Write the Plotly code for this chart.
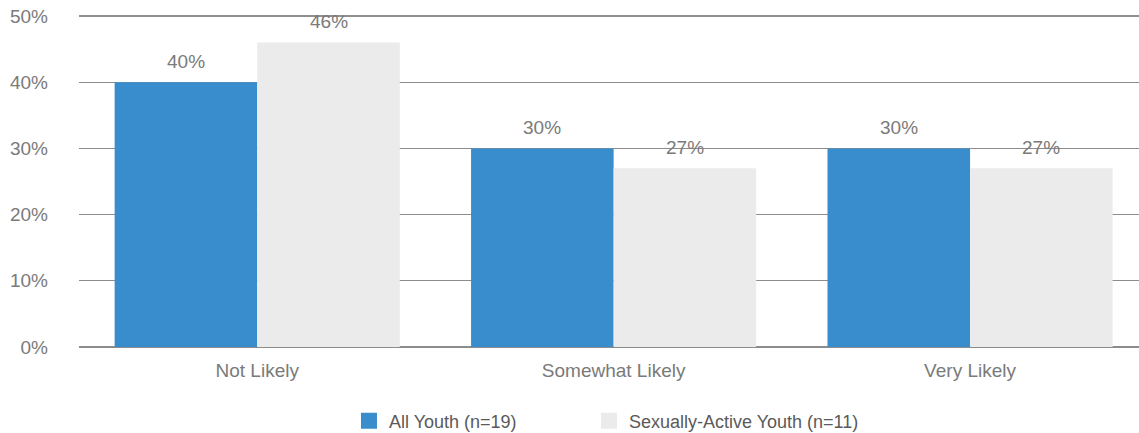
import plotly.graph_objects as go

categories = ["Not Likely", "Somewhat Likely", "Very Likely"]
all_youth = [40, 30, 30]
active_youth = [46, 27, 27]
series_names = ["All Youth (n=19)", "Sexually-Active Youth (n=11)"]
tick_vals = [0, 10, 20, 30, 40, 50]
tick_text = ["0%", "10%", "20%", "30%", "40%", "50%"]

BLUE = "#3a8dcd"
GREY = "#ebebeb"
TXT = "#7a7a7a"
GRID = "#8c8c8c"
FONT = "Liberation Sans, Arial, sans-serif"
BARGAP = 0.2

fig = go.Figure()
fig.add_trace(go.Bar(x=categories, y=all_youth, marker=dict(color=BLUE, line_width=0),
                     name=series_names[0], showlegend=False))
fig.add_trace(go.Bar(x=categories, y=active_youth, marker=dict(color=GREY, line_width=0),
                     name=series_names[1], showlegend=False))

# legend swatches, each in its own legend box so they can be placed freely
legend_x = [0.2547, 0.4811]
legend_ids = ["legend", "legend2"]
for nm, col, lid in zip(series_names, [BLUE, GREY], legend_ids):
    fig.add_trace(go.Scatter(x=[None], y=[None], mode="markers", name=nm, legend=lid,
                             marker=dict(symbol="square", size=18, color=col)))

# value labels above each bar
half = (1 - BARGAP) / 4
for i, (a, b) in enumerate(zip(all_youth, active_youth)):
    for off, v in ((-half, a), (half, b)):
        fig.add_annotation(x=i + off, y=v, text=f"{v}%", showarrow=False,
                           yanchor="middle", yshift=21,
                           font=dict(family=FONT, size=19, color=TXT))

# slightly darker top rule
fig.add_shape(type="line", xref="paper", yref="paper", x0=0, x1=1, y0=1, y1=1,
              line=dict(color="#6a6a6a", width=1.3), layer="below")

legend_style = dict(orientation="h", y=-0.2236, yanchor="middle", xanchor="left",
                    font=dict(family=FONT, size=18, color="#5a5a5a"),
                    itemclick=False, bgcolor="rgba(0,0,0,0)")

fig.update_layout(
    width=1139, height=433,
    margin=dict(l=79, r=0, t=16, b=86, autoexpand=False),
    paper_bgcolor="white", plot_bgcolor="white",
    barmode="group", bargap=BARGAP, bargroupgap=0,
    font=dict(family=FONT, color=TXT),
    showlegend=True,
    legend=dict(x=legend_x[0], **legend_style),
    legend2=dict(x=legend_x[1], **legend_style),
    xaxis=dict(range=[-0.5, 2.474], showgrid=False, showline=False, ticks="",
               tickfont=dict(size=19, color=TXT), ticklabelstandoff=10),
    yaxis=dict(range=[0, 50], tickvals=tick_vals, ticktext=tick_text,
               showgrid=True, gridcolor=GRID, gridwidth=1.3,
               zeroline=True, zerolinecolor=GRID, zerolinewidth=1.6,
               showline=False, ticks="", tickfont=dict(size=19, color=TXT),
               ticklabelstandoff=30),
)

fig.write_html("out.html")
